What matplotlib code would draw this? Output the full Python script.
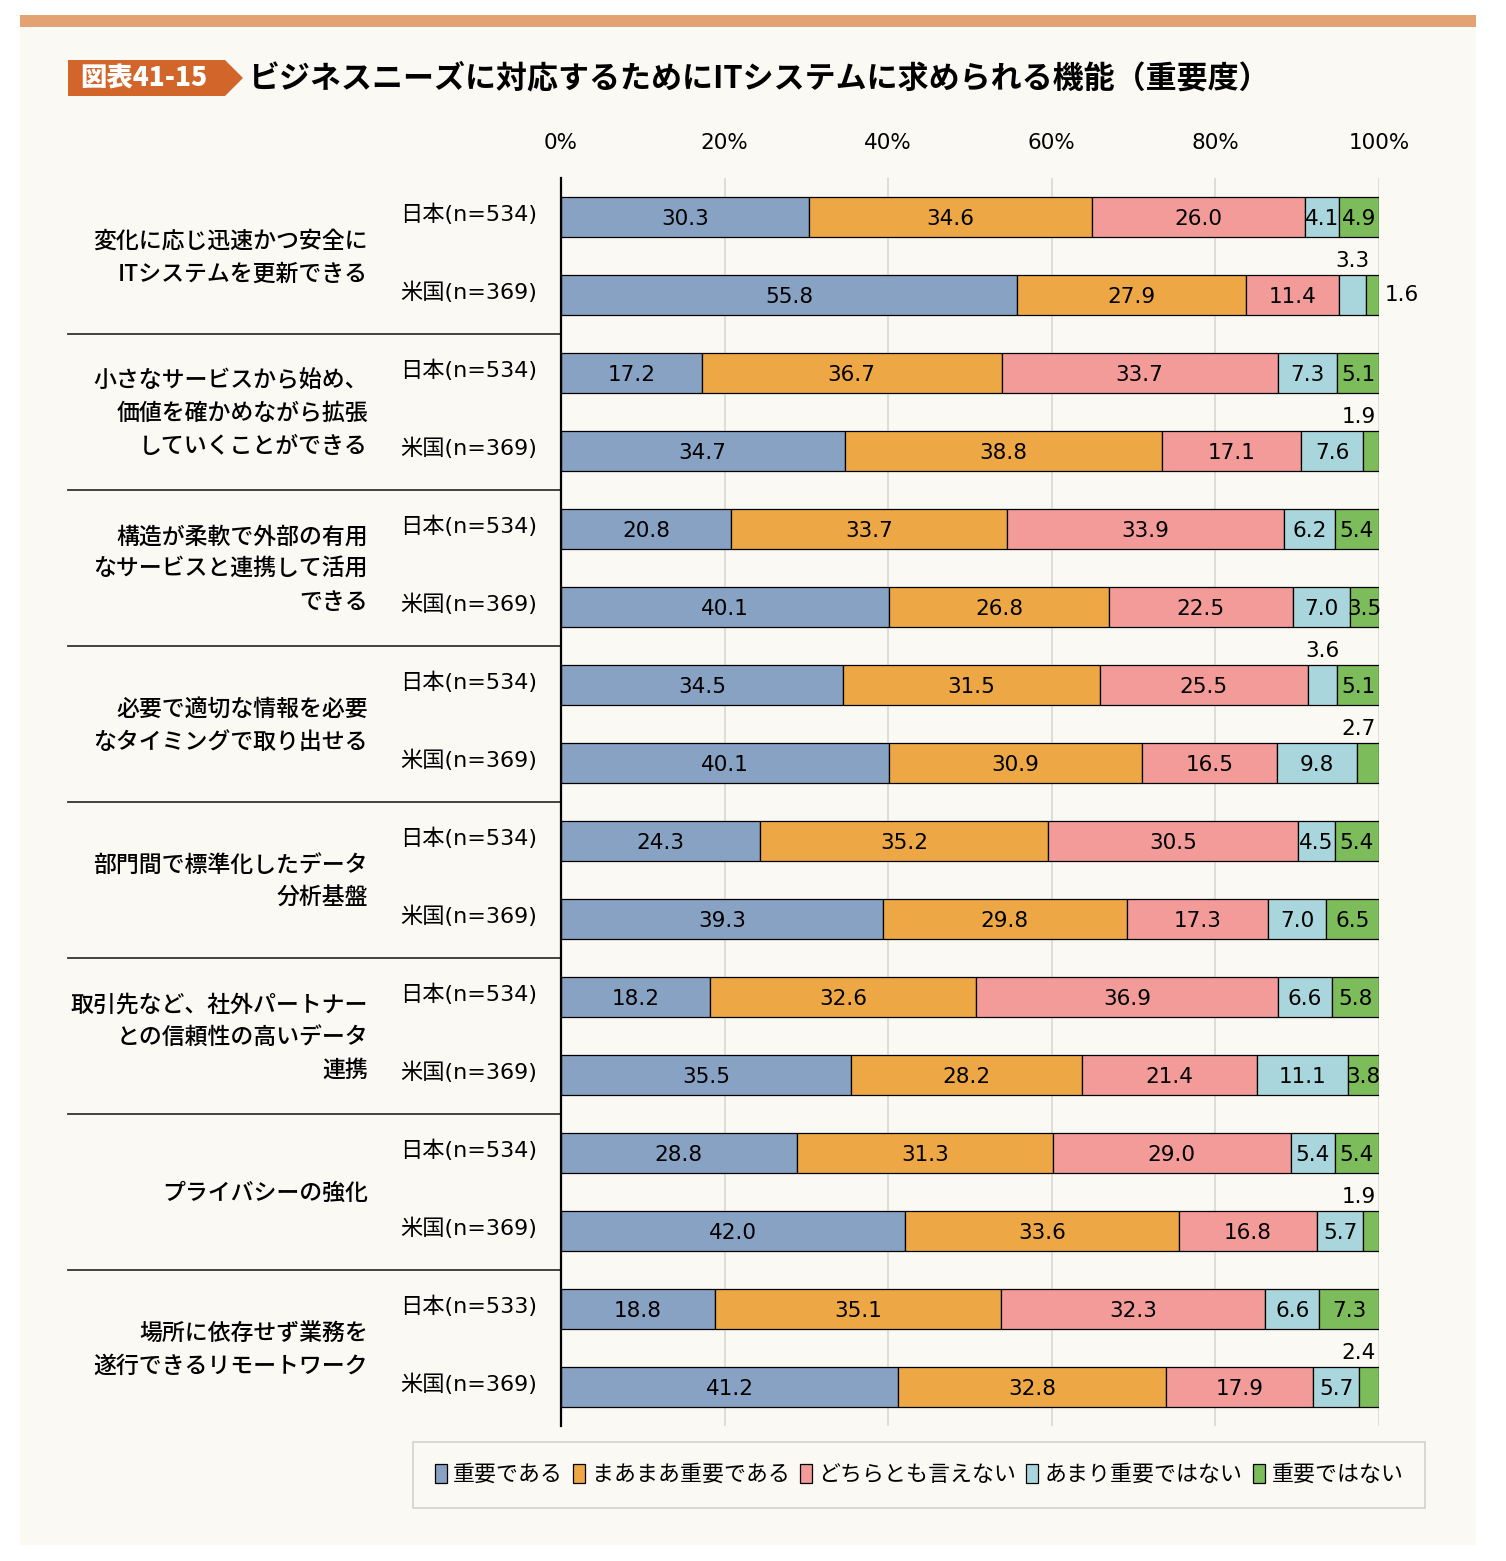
"""
ITシステムに求められる機能（重要度）- 100%積み上げ横棒
"""

import numpy as np
import matplotlib.pyplot as plt
import matplotlib.transforms as mtransforms
from matplotlib.patches import Rectangle, Polygon, Patch
from matplotlib.lines import Line2D

plt.rcParams['font.family'] = ['DejaVu Sans', 'Noto Sans CJK JP']

# データ
categories = [
    "変化に応じ迅速かつ安全に\nITシステムを更新できる",
    "小さなサービスから始め、\n価値を確かめながら拡張\nしていくことができる",
    "構造が柔軟で外部の有用\nなサービスと連携して活用\nできる",
    "必要で適切な情報を必要\nなタイミングで取り出せる",
    "部門間で標準化したデータ\n分析基盤",
    "取引先など、社外パートナー\nとの信頼性の高いデータ\n連携",
    "プライバシーの強化",
    "場所に依存せず業務を\n遂行できるリモートワーク",
]
row_labels = ["日本(n=534)", "米国(n=369)"] * 7 + ["日本(n=533)", "米国(n=369)"]
series = ["重要である", "まあまあ重要である", "どちらとも言えない", "あまり重要ではない", "重要ではない"]

juyo       = [30.3, 55.8, 17.2, 34.7, 20.8, 40.1, 34.5, 40.1, 24.3, 39.3, 18.2, 35.5, 28.8, 42.0, 18.8, 41.2]
maamaa     = [34.6, 27.9, 36.7, 38.8, 33.7, 26.8, 31.5, 30.9, 35.2, 29.8, 32.6, 28.2, 31.3, 33.6, 35.1, 32.8]
dochira    = [26.0, 11.4, 33.7, 17.1, 33.9, 22.5, 25.5, 16.5, 30.5, 17.3, 36.9, 21.4, 29.0, 16.8, 32.3, 17.9]
amari      = [4.1, 3.3, 7.3, 7.6, 6.2, 7.0, 3.6, 9.8, 4.5, 7.0, 6.6, 11.1, 5.4, 5.7, 6.6, 5.7]
juyodenai  = [4.9, 1.6, 5.1, 1.9, 5.4, 3.5, 5.1, 2.7, 5.4, 6.5, 5.8, 3.8, 5.4, 1.9, 7.3, 2.4]

colors = ['#88A2C4', '#EDA845', '#F29B98', '#A9D6DC', '#7CBC5A']

# 棒の外に出すラベル (行, 系列) -> 位置
outside = {(1, 3): 'above', (1, 4): 'right', (3, 4): 'above', (6, 3): 'above',
           (7, 4): 'above', (13, 4): 'above', (15, 4): 'above'}

vals = np.array([juyo, maamaa, dochira, amari, juyodenai])
pct = vals / vals.sum(axis=0) * 100
n = vals.shape[1]
y = np.arange(n)

W, H = 1506, 1561
fig = plt.figure(figsize=(W / 100, H / 100), dpi=100, facecolor='white')

# 背景パネル
fig.patches.append(Rectangle((20 / W, 1 - 1545 / H), 1456 / W, 1518 / H,
                             transform=fig.transFigure, facecolor='#FBF9F4', edgecolor='none', zorder=-2))
fig.patches.append(Rectangle((20 / W, 1 - 27 / H), 1456 / W, 12 / H,
                             transform=fig.transFigure, facecolor='#E2A272', edgecolor='none', zorder=-2))
# タイトル
tag = [(68, 60), (225, 60), (243, 78), (225, 96), (68, 96)]
fig.patches.append(Polygon([(px / W, 1 - py / H) for px, py in tag], closed=True,
                           transform=fig.transFigure, facecolor='#D2652A', edgecolor='none', zorder=-1))
fig.text(80 / W, 1 - 78 / H, "図表41-15", color='white', fontsize=19, fontweight='heavy',
         family=['Noto Sans CJK JP'], ha='left', va='center')
fig.text(248 / W, 1 - 78 / H, "ビジネスニーズに対応するためにITシステムに求められる機能（重要度）",
         fontsize=22.3, fontweight='bold', family=['Noto Sans CJK JP'], ha='left', va='center')

ax = fig.add_axes([561 / W, 1 - 1426 / H, 818 / W, 1248 / H])
ax.set_facecolor('none')

left = np.zeros(n)
for k in range(5):
    ax.barh(y, pct[k], left=left, height=0.51, color=colors[k], edgecolor='black',
            linewidth=0.9, zorder=3, label=series[k])
    for i in range(n):
        txt = f"{vals[k, i]:.1f}"
        c = left[i] + pct[k, i] / 2
        mode = outside.get((i, k))
        if mode == 'above':
            ax.text(min(c, 97.5), i - 0.43, txt, ha='center', va='center', fontsize=15.5, zorder=4)
        elif mode == 'right':
            ax.annotate(txt, (100, i), xytext=(4, 0), textcoords='offset points',
                        ha='left', va='center', fontsize=15.5)
        else:
            ax.text(c, i + 0.02, txt, ha='center', va='center', fontsize=15.5, zorder=4)
    left += pct[k]

ax.set_xlim(0, 100)
ax.set_ylim(n - 0.5, -0.5)
ax.xaxis.tick_top()
ax.set_xticks(np.arange(0, 101, 20))
ax.set_xticklabels([f"{v}%" for v in range(0, 101, 20)], fontsize=15.5)
ax.tick_params(axis='x', length=0, pad=18)
ax.set_yticks([])
ax.grid(axis='x', color='#D8D8D8', linewidth=1.2, zorder=0)
for s in ['top', 'right', 'bottom']:
    ax.spines[s].set_visible(False)
ax.spines['left'].set_linewidth(1.6)
ax.spines['left'].set_zorder(5)

# 左側のラベルと区切り線
trans = mtransforms.blended_transform_factory(fig.transFigure, ax.transData)
for i, lab in enumerate(row_labels):
    ax.text(537 / W, i - 0.03, lab, transform=trans, ha='right', va='center', fontsize=16)
for g, cat in enumerate(categories):
    ax.text(368 / W, 2 * g + 0.52, cat, transform=trans, ha='right', va='center',
            fontsize=16.5, fontweight='medium', linespacing=1.55, family=['Noto Sans CJK JP'])
    if g > 0:
        ax.add_line(Line2D([68 / W, 561 / W], [2 * g - 0.5] * 2, transform=trans,
                           color='#333333', linewidth=1.3, clip_on=False))

handles = [Patch(facecolor=colors[k], edgecolor='black', linewidth=0.9) for k in range(5)]
leg = fig.legend(handles, series, loc='center', bbox_to_anchor=(919 / W, 1 - 1475 / H), ncol=5,
                 frameon=True, fancybox=False, handlelength=0.55, handleheight=0.9,
                 handletextpad=0.3, columnspacing=0.45, borderpad=1.0,
                 prop={'family': ['Noto Sans CJK JP'], 'size': 15.8})
leg.get_frame().set_edgecolor('#C8C8C8')
leg.get_frame().set_facecolor('#FBF9F4')
leg.get_frame().set_linewidth(1.2)

plt.savefig('out.png', dpi=100, facecolor='white')
